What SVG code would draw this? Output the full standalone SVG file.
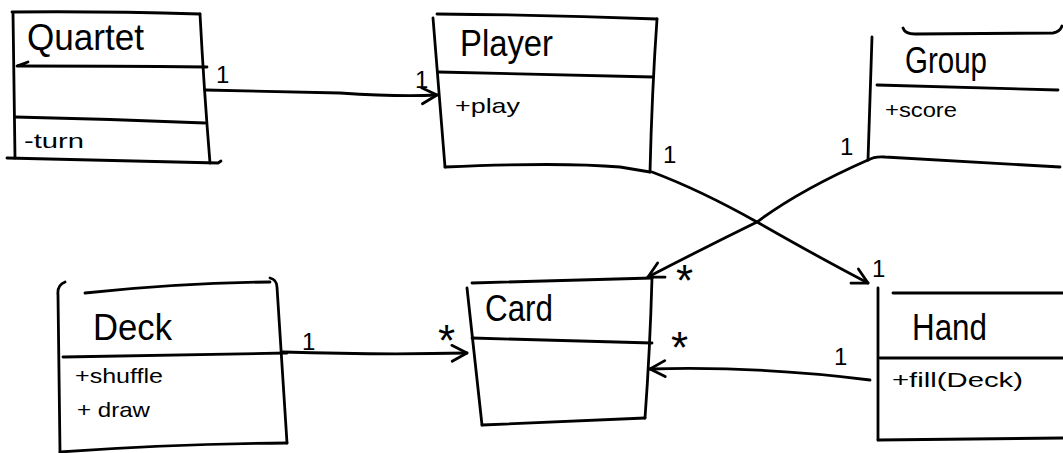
<svg xmlns="http://www.w3.org/2000/svg" width="1063" height="453" viewBox="0 0 1063 453">
<style>
  .ln { fill: none; stroke: #000; stroke-width: 2.8; stroke-linecap: round; stroke-linejoin: round; }
  .t { font-family: "Liberation Sans", Arial, sans-serif; fill: #000; }
  .title { font-size: 36px; }
  .mem { font-size: 21px; }
  .mul { font-size: 24px; }
  .star { font-size: 44px; }
</style>
<defs>
  <marker id="arr" markerUnits="userSpaceOnUse" viewBox="-20 -12 24 24" markerWidth="24" markerHeight="24" refX="0" refY="0" orient="auto">
    <path d="M-15,-8 L0,0 L-15,8" fill="none" stroke="#000" stroke-width="2.8" stroke-linecap="round" stroke-linejoin="round"/>
  </marker>
</defs>
<rect width="1063" height="453" fill="#fff"/>

<g id="Quartet">
  <path class="ln" d="M12 12 Q100 11 200 14"/>
  <path class="ln" d="M13 13 L15 158"/>
  <path class="ln" d="M200 14 Q204 90 210 163"/>
  <path class="ln" d="M7 158 Q110 160 218 163 L221 161"/>
  <path class="ln" d="M28 62 L17 66 Q110 66 207 67"/>
  <path class="ln" d="M15 117 Q110 119 205 123"/>
  <text class="t title" x="27" y="50" font-size="30" textLength="117" lengthAdjust="spacingAndGlyphs">Quartet</text>
  <text class="t mem" x="24" y="148" font-size="18" textLength="60" lengthAdjust="spacingAndGlyphs">-turn</text>
</g>

<g id="Player">
  <path class="ln" d="M437 14 Q550 15 657 19"/>
  <path class="ln" d="M433 18 L445 167"/>
  <path class="ln" d="M657 19 Q652 90 650 172"/>
  <path class="ln" d="M445 167 Q560 162 620 167 L650 172"/>
  <path class="ln" d="M438 72 Q550 75 653 77"/>
  <text class="t title" x="460" y="56" font-size="38" textLength="93" lengthAdjust="spacingAndGlyphs">Player</text>
  <text class="t mem" x="455" y="113" font-size="22" textLength="65" lengthAdjust="spacingAndGlyphs">+play</text>
</g>

<g id="Group">
  <path class="ln" d="M903 28 Q905 34 915 34 L1053 33 Q1060 32 1062 26"/>
  <path class="ln" d="M872 37 L868 160"/>
  <path class="ln" d="M877 85 L1058 90"/>
  <path class="ln" d="M868 160 Q875 156 885 157 L1060 167"/>
  <text class="t title" x="905" y="73" font-size="29" textLength="82" lengthAdjust="spacingAndGlyphs">Group</text>
  <text class="t mem" x="885" y="117" font-size="19" textLength="72" lengthAdjust="spacingAndGlyphs">+score</text>
</g>

<g id="Card">
  <path class="ln" d="M472 283 L652 278"/>
  <path class="ln" d="M467 288 L482 425"/>
  <path class="ln" d="M652 278 Q650 350 645 418"/>
  <path class="ln" d="M482 425 L645 418"/>
  <path class="ln" d="M472 338 L652 343"/>
  <text class="t title" x="485" y="321" font-size="38" textLength="68" lengthAdjust="spacingAndGlyphs">Card</text>
</g>

<g id="Deck">
  <path class="ln" d="M85 293 Q180 283 270 282"/>
  <path class="ln" d="M65 282 Q57 285 58 295 L60 452"/>
  <path class="ln" d="M270 278 Q277 280 277 287 L287 443"/>
  <path class="ln" d="M63 357 L287 353"/>
  <path class="ln" d="M60 452 Q170 444 287 443"/>
  <text class="t title" x="93" y="340" font-size="40" textLength="79" lengthAdjust="spacingAndGlyphs">Deck</text>
  <text class="t mem" x="75" y="383" textLength="88" lengthAdjust="spacingAndGlyphs">+shuffle</text>
  <text class="t mem" x="77" y="417" textLength="73" lengthAdjust="spacingAndGlyphs">+ draw</text>
</g>

<g id="Hand">
  <path class="ln" d="M878 288 L878 440"/>
  <path class="ln" d="M893 293 L1063 293"/>
  <path class="ln" d="M880 358 L1063 358"/>
  <path class="ln" d="M878 440 L1063 438"/>
  <text class="t title" x="912" y="340" font-size="36" textLength="75" lengthAdjust="spacingAndGlyphs">Hand</text>
  <text class="t mem" x="892" y="387" font-size="23" textLength="131" lengthAdjust="spacingAndGlyphs">+fill(Deck)</text>
</g>

<g id="connectors">
  <path class="ln" d="M205 90 Q300 92 340 93 Q400 97 437 95" marker-end="url(#arr)"/>
  <text class="t mul" x="216" y="83">1</text>
  <text class="t mul" x="415" y="88">1</text>

  <path class="ln" d="M283 352 Q380 355 467 353" marker-end="url(#arr)"/>
  <text class="t mul" x="302" y="350">1</text>
  <text class="t star" x="438" y="356">*</text>

  <path class="ln" d="M652 172 Q700 190 757 222 Q820 258 868 283" marker-end="url(#arr)"/>
  <text class="t mul" x="663" y="163">1</text>
  <text class="t mul" x="872" y="277">1</text>

  <path class="ln" d="M868 160 Q800 190 757 222 Q700 250 648 277" marker-end="url(#arr)"/>
  <text class="t mul" x="840" y="155">1</text>
  <text class="t star" x="676" y="296">*</text>

  <path class="ln" d="M870 380 Q760 366 650 369" marker-end="url(#arr)"/>
  <text class="t mul" x="834" y="365">1</text>
  <text class="t star" x="671" y="363">*</text>
</g>
</svg>
